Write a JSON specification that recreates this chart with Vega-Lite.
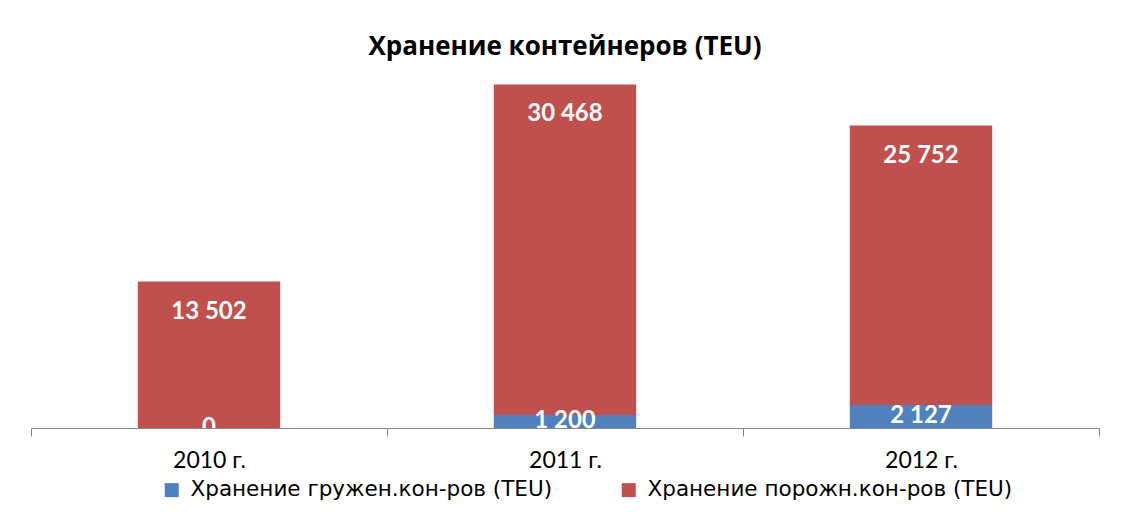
{
  "$schema": "https://vega.github.io/schema/vega-lite/v6.json",
  "width": 1068,
  "height": 358,
  "autosize": {"type": "none"},
  "padding": {"left": 31, "top": 70, "right": 26, "bottom": 97},
  "background": "white",
  "title": {
    "text": "Хранение контейнеров (TEU)",
    "font": "Open Sans",
    "fontSize": 26,
    "fontWeight": "bold",
    "color": "#000000",
    "anchor": "middle",
    "baseline": "alphabetic",
    "offset": -11
  },
  "data": {
    "values": [
      {"year": "2010 г.", "series": "Хранение гружен.кон-ров (TEU)", "value": 0},
      {"year": "2010 г.", "series": "Хранение порожн.кон-ров  (TEU)", "value": 13502},
      {"year": "2011 г.", "series": "Хранение гружен.кон-ров (TEU)", "value": 1200},
      {"year": "2011 г.", "series": "Хранение порожн.кон-ров  (TEU)", "value": 30468},
      {"year": "2012 г.", "series": "Хранение гружен.кон-ров (TEU)", "value": 2127},
      {"year": "2012 г.", "series": "Хранение порожн.кон-ров  (TEU)", "value": 25752}
    ]
  },
  "transform": [
    {"stack": "value", "groupby": ["year"], "sort": [{"field": "series", "order": "ascending"}], "as": ["y0", "y1"]},
    {"calculate": "(datum.y0 + datum.y1) / 2", "as": "mid"}
  ],
  "encoding": {
    "x": {
      "field": "year",
      "type": "nominal",
      "sort": null,
      "scale": {"paddingInner": 0, "paddingOuter": 0},
      "axis": {
        "title": null,
        "labelAngle": 0,
        "domainColor": "#868686",
        "tickColor": "#868686",
        "tickSize": 8,
        "tickBand": "extent",
        "labelFont": "Lato",
        "labelFontSize": 23,
        "labelColor": "#000000",
        "labelPadding": 13
      }
    }
  },
  "layer": [
    {
      "mark": {"type": "bar", "width": {"band": 0.4}},
      "encoding": {
        "y": {"field": "y0", "type": "quantitative", "scale": {"domain": [0, 33000], "nice": false}, "axis": null},
        "y2": {"field": "y1"},
        "color": {
          "field": "series",
          "type": "nominal",
          "scale": {
            "domain": ["Хранение гружен.кон-ров (TEU)", "Хранение порожн.кон-ров  (TEU)"],
            "range": ["#4F81BD", "#C0504D"]
          },
          "legend": {
            "orient": "none",
            "legendX": 130,
            "legendY": 409,
            "direction": "horizontal",
            "title": null,
            "symbolType": "square",
            "symbolSize": 196,
            "symbolStrokeWidth": 0,
            "labelFont": "DejaVu Sans",
            "labelFontSize": 21.5,
            "labelColor": "#000000",
            "labelLimit": 600,
            "labelOffset": 8,
            "columnPadding": 65
          }
        }
      }
    },
    {
      "transform": [{"filter": "datum.series == 'Хранение порожн.кон-ров  (TEU)'"}],
      "mark": {"type": "text", "font": "Lato", "fontSize": 24, "fontWeight": "bold", "color": "white", "baseline": "middle", "dy": 30},
      "encoding": {
        "y": {"field": "y1", "type": "quantitative"},
        "text": {"field": "value", "type": "quantitative", "format": ","}
      }
    },
    {
      "transform": [{"filter": "datum.series == 'Хранение гружен.кон-ров (TEU)'"}],
      "mark": {"type": "text", "font": "Lato", "fontSize": 24, "fontWeight": "bold", "color": "white", "baseline": "middle", "clip": true},
      "encoding": {
        "y": {"field": "mid", "type": "quantitative"},
        "text": {"field": "value", "type": "quantitative", "format": ","}
      }
    }
  ],
  "config": {
    "view": {"stroke": null},
    "locale": {"number": {"decimal": ",", "thousands": " ", "grouping": [3], "currency": ["", ""]}}
  }
}
